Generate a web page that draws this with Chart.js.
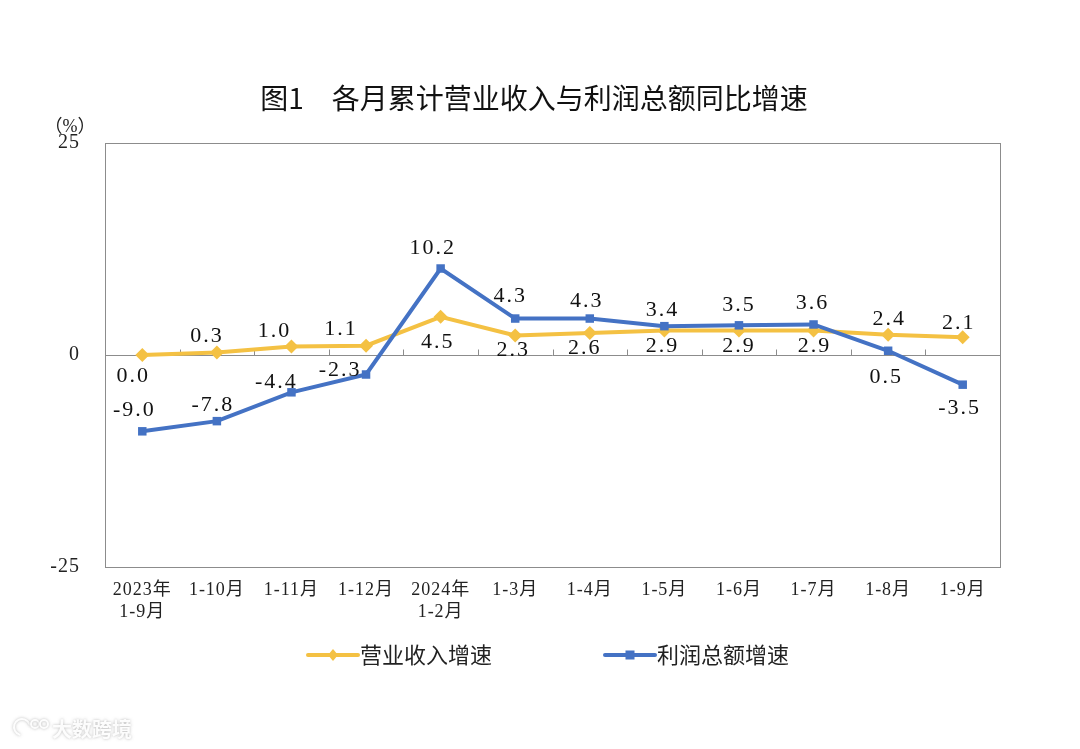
<!DOCTYPE html>
<html>
<head>
<meta charset="utf-8">
<script src="https://cdn.jsdelivr.net/npm/chart.js@4.4.0/dist/chart.umd.min.js"></script>
<style>
  html, body { margin: 0; padding: 0; background: #fff; }
  #wrap { width: 1080px; height: 749px; position: relative; }
</style>
</head>
<body>
<div id="wrap"><canvas id="c" width="1080" height="749"></canvas></div>
<script>
// ---- data ----
const categories = [
  ['2023年', '1-9月'], '1-10月', '1-11月', '1-12月', ['2024年', '1-2月'],
  '1-3月', '1-4月', '1-5月', '1-6月', '1-7月', '1-8月', '1-9月'
];
const revenueGrowth = [0.0, 0.3, 1.0, 1.1, 4.5, 2.3, 2.6, 2.9, 2.9, 2.9, 2.4, 2.1];
const profitGrowth  = [-9.0, -7.8, -4.4, -2.3, 10.2, 4.3, 4.3, 3.4, 3.5, 3.6, 0.5, -3.5];
const yTicks = [-25, 0, 25];
const seriesNames = ['营业收入增速', '利润总额增速'];
const chartTitle = '图1\u3000各月累计营业收入与利润总额同比增速';
const unitLabel = '（%）';

// ---- label placement (style, pixel shifts relative to each point) ----
const revenueLabelDx = [-10, -11, -18, -26, -4, -3, -6, -3, -1, 0, 0, -5];
const revenueLabelDy = [21, -16, -15, -16, 25, 15, 15, 16, 16, 16, -15, -14];
const profitLabelDx  = [-9, -5, -16, -27, -9, -6, -4, -3, -1, -2, -3, -4];
const profitLabelDy  = [-21, -16, -10, -4, -20, -22, -17, -16, -20, -21, 26, 24];

const YELLOW = '#F4C143';
const BLUE = '#4472C4';
const SERIF = '"Liberation Serif", "Times New Roman", "Noto Sans CJK SC", serif';
const SANS = '"Noto Sans CJK SC", "Noto Sans", sans-serif';

const spacing = {
  id: 'spacing',
  beforeDraw(chart) {
    if ('letterSpacing' in chart.ctx) chart.ctx.letterSpacing = '1px';
  }
};

const frame = {
  id: 'frame',
  beforeDatasetsDraw(chart) {
    const {ctx, chartArea: a, scales} = chart;
    ctx.save();
    ctx.strokeStyle = '#8c8c8c';
    ctx.lineWidth = 1;
    ctx.strokeRect(Math.round(a.left) + 0.5, Math.round(a.top) + 0.5,
                   Math.round(a.right - a.left), Math.round(a.bottom - a.top));
    // zero line with category boundary ticks
    const y0 = Math.round(scales.y.getPixelForValue(0)) + 0.5;
    ctx.beginPath();
    ctx.moveTo(a.left, y0); ctx.lineTo(a.right, y0);
    const n = chart.data.labels.length;
    const step = (a.right - a.left) / n;
    for (let k = 1; k < n; k++) {
      const x = Math.round(a.left + step * k) + 0.5;
      ctx.moveTo(x, y0); ctx.lineTo(x, y0 - 6);
    }
    ctx.stroke();
    ctx.restore();
  }
};

const extras = {
  id: 'extras',
  afterDatasetsDraw(chart) {
    const {ctx} = chart;
    ctx.save();
    // data labels
    const shifts = [[revenueLabelDx, revenueLabelDy], [profitLabelDx, profitLabelDy]];
    ctx.font = '22px ' + SERIF;
    if ('letterSpacing' in ctx) ctx.letterSpacing = '2px';
    ctx.fillStyle = '#111';
    ctx.textAlign = 'center';
    ctx.textBaseline = 'middle';
    chart.data.datasets.forEach((ds, di) => {
      const meta = chart.getDatasetMeta(di);
      meta.data.forEach((pt, i) => {
        ctx.fillText(ds.data[i].toFixed(1), pt.x + shifts[di][0][i] + 1, pt.y + shifts[di][1][i]);
      });
    });
    ctx.restore();
  },
  afterDraw(chart) {
    const {ctx} = chart;
    ctx.save();
    if ('letterSpacing' in ctx) ctx.letterSpacing = '0px';
    // title
    ctx.fillStyle = '#111';
    ctx.font = '28px ' + SANS;
    ctx.textAlign = 'center';
    ctx.textBaseline = 'middle';
    ctx.fillText(chartTitle, 534, 98);
    // unit
    ctx.font = '18px ' + SERIF;
    ctx.fillStyle = '#222';
    ctx.fillText(unitLabel, 70, 127);
    // legend
    const items = [
      {x: 308, color: YELLOW, style: 'diamond', text: seriesNames[0]},
      {x: 605, color: BLUE, style: 'square', text: seriesNames[1]}
    ];
    const ly = 655;
    items.forEach(it => {
      ctx.strokeStyle = it.color;
      ctx.lineWidth = 4;
      ctx.lineCap = 'round';
      ctx.beginPath();
      ctx.moveTo(it.x, ly); ctx.lineTo(it.x + 50, ly);
      ctx.stroke();
      ctx.fillStyle = it.color;
      const cx = it.x + 25;
      if (it.style === 'diamond') {
        ctx.beginPath();
        ctx.moveTo(cx, ly - 6); ctx.lineTo(cx + 5, ly); ctx.lineTo(cx, ly + 6); ctx.lineTo(cx - 5, ly);
        ctx.closePath(); ctx.fill();
      } else {
        ctx.fillRect(cx - 4.5, ly - 4.5, 9, 9);
      }
      ctx.fillStyle = '#222';
      ctx.font = '22px ' + SANS;
      ctx.textAlign = 'left';
      ctx.fillText(it.text, it.x + 52, ly);
    });
    // watermark
    ctx.font = 'bold 20px ' + SANS;
    ctx.textAlign = 'left';
    ctx.shadowColor = 'rgba(120,120,120,0.55)';
    ctx.shadowBlur = 3;
    ctx.fillStyle = 'rgba(255,255,255,0.95)';
    ctx.fillText('大数跨境', 52, 729);
    ctx.lineWidth = 2;
    ctx.strokeStyle = 'rgba(255,255,255,0.95)';
    ctx.beginPath();
    ctx.arc(22, 727, 8, Math.PI * 0.6, Math.PI * 1.9);
    ctx.stroke();
    ctx.beginPath(); ctx.arc(35, 724, 4, 0, Math.PI * 2); ctx.stroke();
    ctx.beginPath(); ctx.arc(44, 724, 4, 0, Math.PI * 2); ctx.stroke();
    ctx.restore();
  }
};

new Chart(document.getElementById('c'), {
  type: 'line',
  data: {
    labels: categories,
    datasets: [
      {
        label: seriesNames[0],
        data: revenueGrowth,
        borderColor: YELLOW,
        backgroundColor: YELLOW,
        borderWidth: 4,
        pointStyle: 'rectRot',
        pointRadius: 7,
        pointBorderWidth: 0,
        tension: 0,
        order: 2
      },
      {
        label: seriesNames[1],
        data: profitGrowth,
        borderColor: BLUE,
        backgroundColor: BLUE,
        borderWidth: 4,
        pointStyle: 'rect',
        pointRadius: 6,
        pointBorderWidth: 0,
        tension: 0,
        order: 1
      }
    ]
  },
  options: {
    responsive: false,
    animation: false,
    devicePixelRatio: 1,
    layout: { padding: { left: 0, right: 80, top: 143, bottom: 122 } },
    plugins: {
      legend: { display: false },
      tooltip: { enabled: false },
      title: { display: false }
    },
    scales: {
      x: {
        type: 'category',
        offset: true,
        grid: { display: false, drawTicks: false },
        border: { display: false },
        ticks: {
          color: '#222',
          font: { family: SERIF, size: 18, lineHeight: 1.22 },
          padding: 12,
          maxRotation: 0,
          autoSkip: false
        },
        afterFit(scale) { scale.height = 60; }
      },
      y: {
        min: -25,
        max: 25,
        grid: { display: false, drawTicks: false },
        border: { display: false },
        afterBuildTicks(scale) { scale.ticks = yTicks.map(v => ({ value: v })); },
        ticks: {
          color: '#222',
          font: { family: SERIF, size: 20 },
          padding: 25,
          callback: v => String(v)
        },
        afterFit(scale) { scale.width = 105; }
      }
    }
  },
  plugins: [spacing, frame, extras]
});
</script>
</body>
</html>
